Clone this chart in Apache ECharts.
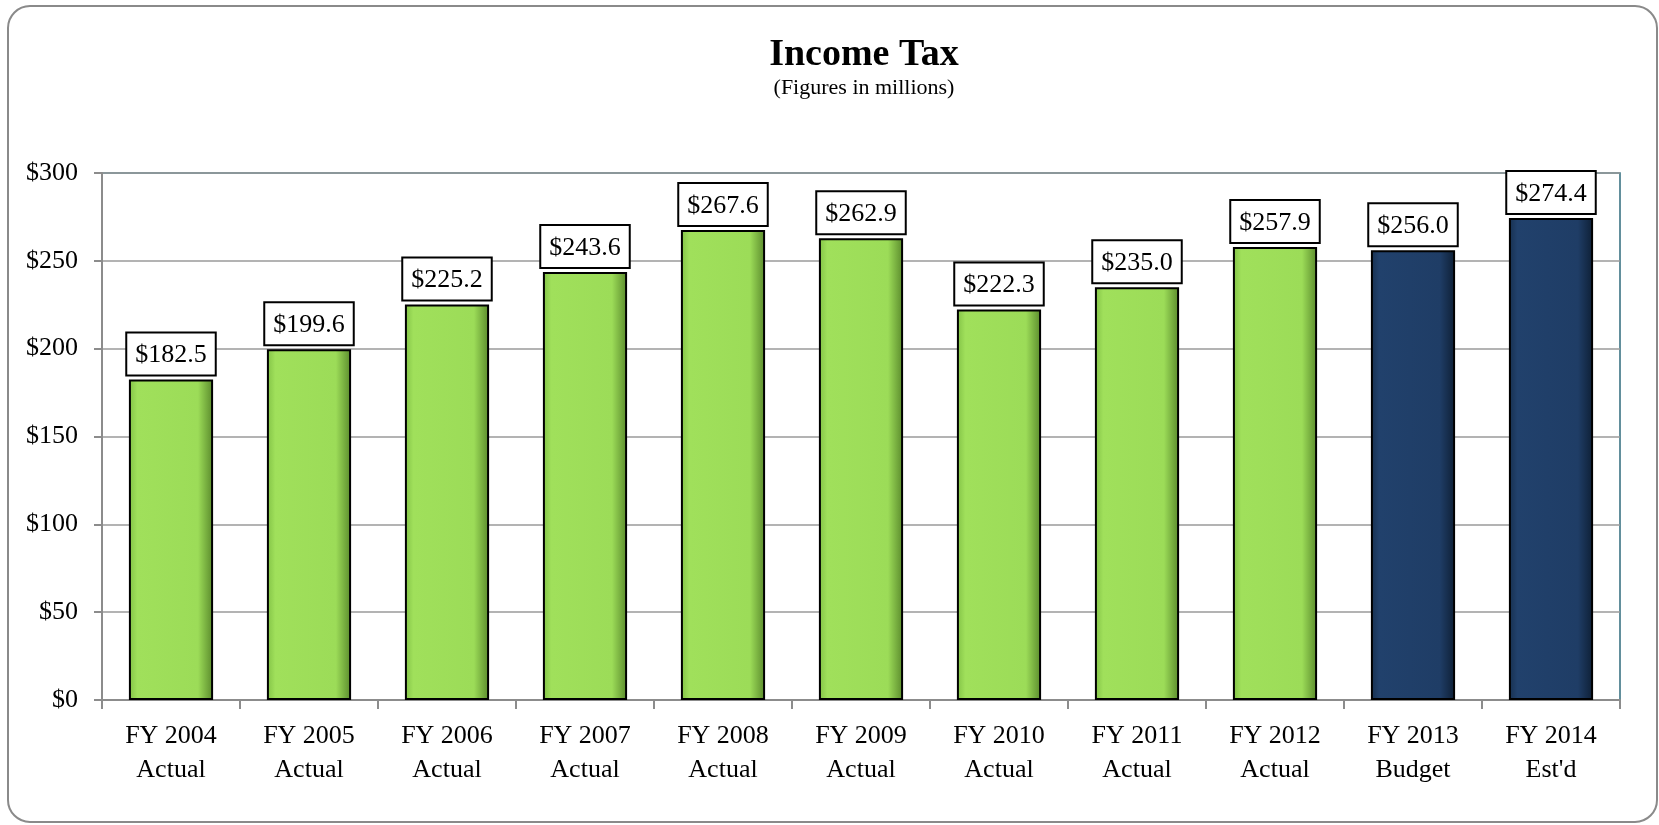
<!DOCTYPE html>
<html>
<head>
<meta charset="utf-8">
<script src="https://cdn.jsdelivr.net/npm/echarts@6/dist/echarts.min.js"></script>
<style>
  html, body { margin: 0; padding: 0; background: #fff; }
  #chart { width: 1659px; height: 825px; }
</style>
</head>
<body>
<div id="chart"></div>
<script>
const categories = [
  "FY 2004\nActual", "FY 2005\nActual", "FY 2006\nActual", "FY 2007\nActual",
  "FY 2008\nActual", "FY 2009\nActual", "FY 2010\nActual", "FY 2011\nActual",
  "FY 2012\nActual", "FY 2013\nBudget", "FY 2014\nEst'd"
];
const values = [182.5, 199.6, 225.2, 243.6, 267.6, 262.9, 222.3, 235.0, 257.9, 256.0, 274.4];
// which bars are projections (navy) rather than actuals (green)
const projected = [false, false, false, false, false, false, false, false, false, true, true];
const yTicks = { min: 0, max: 300, interval: 50 };

const serif = "'Liberation Serif', 'DejaVu Serif', serif";

const green = new echarts.graphic.LinearGradient(0, 0, 1, 0, [
  { offset: 0, color: "#82c246" },
  { offset: 0.1, color: "#a0e05b" },
  { offset: 0.82, color: "#9cdc58" },
  { offset: 1, color: "#5a8a2c" }
]);
const navy = new echarts.graphic.LinearGradient(0, 0, 1, 0, [
  { offset: 0, color: "#17304f" },
  { offset: 0.1, color: "#21416c" },
  { offset: 0.82, color: "#1f3d66" },
  { offset: 1, color: "#0e1f35" }
]);

const chart = echarts.init(document.getElementById("chart"), null, { renderer: "canvas" });

chart.setOption({
  animation: false,
  backgroundColor: "#fff",
  graphic: [
    {
      type: "rect",
      shape: { x: 8, y: 6, width: 1649, height: 816, r: 22 },
      style: { fill: "none", stroke: "#8a8a8a", lineWidth: 2 },
      z: -1
    },
    // title is centred over the plot area, not the whole page
    {
      type: "text", x: 864, y: 36,
      style: { text: "Income Tax", align: "center", font: "bold 38px " + serif, fill: "#000" }
    },
    {
      type: "text", x: 864, y: 77,
      style: { text: "(Figures in millions)", align: "center", font: "22px " + serif, fill: "#000" }
    }
  ],
  grid: {
    left: 102, right: 39, top: 173, bottom: 125,
    show: true, borderColor: "#2f6b7c", borderWidth: 1.5, backgroundColor: "transparent"
  },
  xAxis: {
    type: "category",
    data: categories,
    axisLine: { lineStyle: { color: "#8c8c8c", width: 2 } },
    axisTick: { show: true, length: 9, lineStyle: { color: "#8c8c8c", width: 2 } },
    axisLabel: { fontFamily: serif, fontSize: 26, color: "#000", margin: 19, lineHeight: 34 }
  },
  yAxis: {
    type: "value",
    min: yTicks.min, max: yTicks.max, interval: yTicks.interval,
    axisLine: { show: true, lineStyle: { color: "#8c8c8c", width: 2 } },
    axisTick: { show: true, length: 8, lineStyle: { color: "#8c8c8c", width: 2 } },
    splitLine: { lineStyle: { color: "#9a9a9a", width: 1.5 } },
    axisLabel: {
      fontFamily: serif, fontSize: 26, color: "#000", margin: 24,
      formatter: (v) => "$" + v
    }
  },
  series: [{
    type: "bar",
    barWidth: "61%",
    data: values.map((v, i) => ({
      value: v,
      itemStyle: { color: projected[i] ? navy : green }
    })),
    itemStyle: { borderColor: "#000", borderWidth: 2 },
    label: {
      show: true,
      position: "top",
      distance: 5,
      fontFamily: serif,
      fontSize: 26,
      color: "#000",
      backgroundColor: "#fff",
      borderColor: "#000",
      borderWidth: 2,
      padding: [9, 8, 6, 8],
      formatter: (p) => "$" + p.value.toFixed(1)
    }
  }]
});
</script>
</body>
</html>
